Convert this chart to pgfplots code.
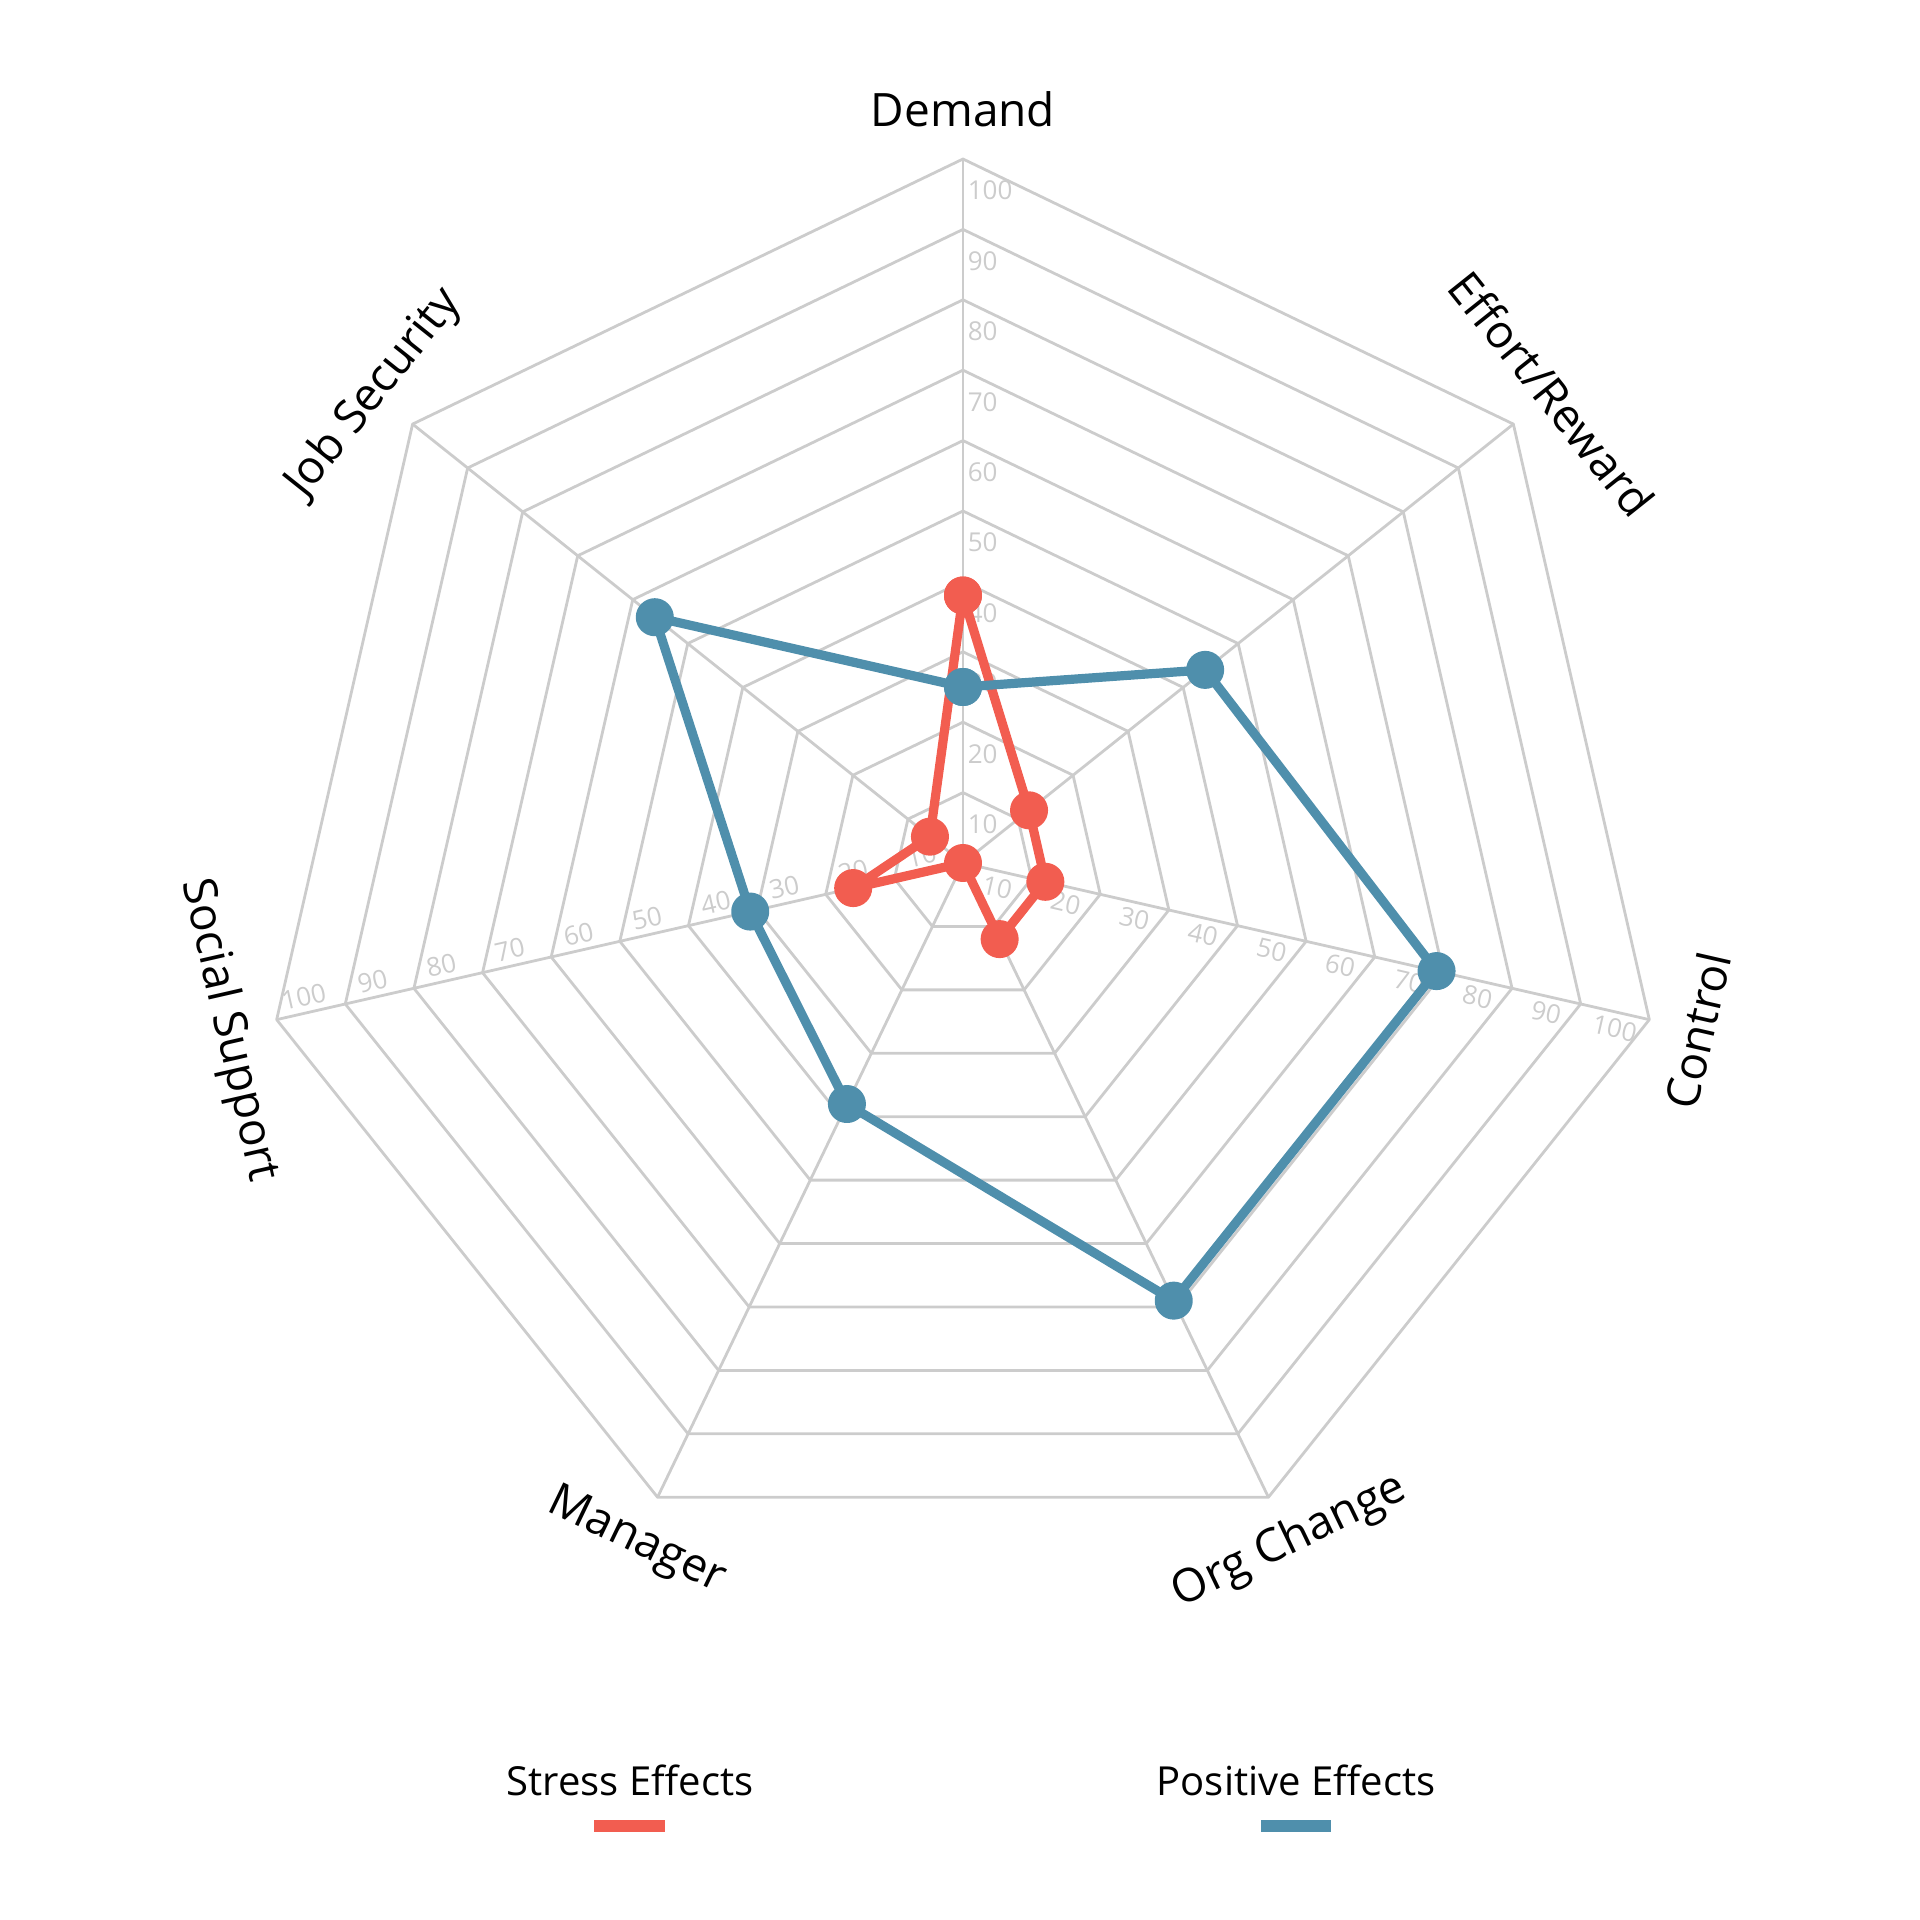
\documentclass[border=0pt]{standalone}
\usepackage{pgfplots}
\pgfplotsset{compat=1.18}
\usepgfplotslibrary{polar}
\usepackage{fontspec}
\setmainfont{Open Sans}
\definecolor{stress}{RGB}{242,93,80}
\definecolor{posi}{RGB}{79,143,172}
\definecolor{gridc}{RGB}{204,204,204}
\tikzset{
  gridline/.style={gridc, line width=0.7pt, line join=round},
  tl/.style={text=gridc, font=\fontsize{6.5pt}{7pt}\selectfont, inner sep=0pt},
  cat/.style={font=\fontsize{11.5pt}{13pt}\selectfont, inner sep=0pt, anchor=center},
}
\begin{document}
\begin{tikzpicture}
\path[use as bounding box] (0,0) rectangle (480pt,480pt);
\begin{polaraxis}[
  at={(240.75pt,264.25pt)}, anchor=center,
  width=352pt, height=352pt, scale only axis,
  xmin=0, xmax=360, ymin=0, ymax=100,
  hide axis, clip=false,
]
% heptagon rings
\pgfplotsinvokeforeach{10,20,30,40,50,60,70,80,90,100}{
  \draw[gridline] (axis cs:90,#1) -- (axis cs:38.5714,#1) -- (axis cs:347.1429,#1)
    -- (axis cs:295.7143,#1) -- (axis cs:244.2857,#1) -- (axis cs:192.8571,#1)
    -- (axis cs:141.4286,#1) -- cycle;
}
% spokes
\pgfplotsinvokeforeach{90,38.5714,347.1429,295.7143,244.2857,192.8571,141.4286}{
  \draw[gridline] (axis cs:#1,0) -- (axis cs:#1,100);
}
% radial tick labels
\foreach \v in {10,20,30,40,50,60,70,80,90,100}{
  \pgfmathsetmacro\p{\v-4.5}
  \edef\tmp{\noexpand\node[tl, anchor=west, inner xsep=1pt] at (axis cs:90,\p) {\v};
    \noexpand\node[tl, rotate=-12.8571, anchor=north, inner ysep=1.5pt] at (axis cs:347.1429,\p) {\v};
    \noexpand\node[tl, rotate=12.8571, anchor=south, inner ysep=1.5pt] at (axis cs:192.8571,\p) {\v};}
  \tmp
}
% category labels
\node[cat] at (axis cs:90,107) {Demand};
\node[cat, rotate=-51.4286] at (axis cs:38.5714,107) {Effort/Reward};
\node[cat, rotate=77.1429] at (axis cs:347.1429,107) {Control};
\node[cat, rotate=25.7143] at (axis cs:295.7143,107) {Org Change};
\node[cat, rotate=-25.7143] at (axis cs:244.2857,107) {Manager};
\node[cat, rotate=-77.1429] at (axis cs:192.8571,107) {Social Support};
\node[cat, rotate=51.4286] at (axis cs:141.4286,107) {Job Security};

% Stress Effects
\addplot[stress, line width=2.3pt, line join=round, mark=*, mark size=3.6pt, mark options={solid, fill=stress}] coordinates {
  (90,38) (38.5714,12) (347.1429,12) (295.7143,12) (244.2857,0) (192.8571,16) (141.4286,6) (90,38)
};
% Positive Effects
\addplot[posi, line width=2.3pt, line join=round, mark=*, mark size=3.6pt, mark options={solid, fill=posi}] coordinates {
  (90,25) (38.5714,44) (347.1429,69) (295.7143,69) (244.2857,38) (192.8571,31) (141.4286,56) (90,25)
};
\end{polaraxis}
% legend
\node[anchor=base, font=\fontsize{10pt}{12pt}\selectfont] at (157.5pt,31pt) {Stress Effects};
\fill[stress] (148.6pt,22pt) rectangle (166.3pt,25pt);
\node[anchor=base, font=\fontsize{10pt}{12pt}\selectfont] at (324pt,31pt) {Positive Effects};
\fill[posi] (315.3pt,22pt) rectangle (332.8pt,25pt);
\end{tikzpicture}
\end{document}
